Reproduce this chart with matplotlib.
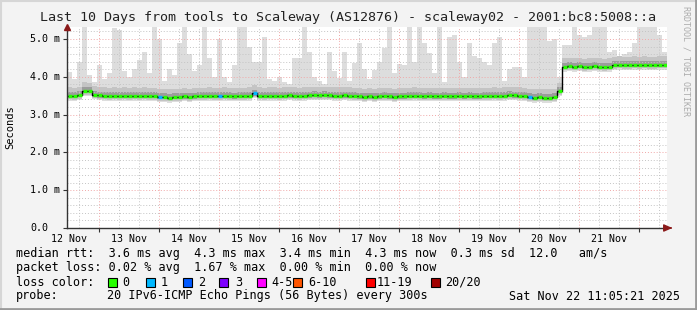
import numpy as np
import matplotlib
matplotlib.use("Agg")
import matplotlib.pyplot as plt
import matplotlib.transforms as mtransforms
from matplotlib.patches import Rectangle
from matplotlib.lines import Line2D

# --- data (2-hour bins, 10 days ending Sat Nov 22 11:05:21) ---
start_day = 11.089 / 24          # Nov 12 11:05 as days since Nov 12 00:00
bin_days = 1 / 12

median_ms = [
    3.50, 3.49, 3.52, 3.63, 3.62, 3.53, 3.51, 3.50, 3.49, 3.50, 3.49, 3.50,
    3.49, 3.50, 3.49, 3.50, 3.49, 3.49, 3.47, 3.46, 3.45, 3.46, 3.47, 3.48,
    3.47, 3.48, 3.49, 3.49, 3.50, 3.49, 3.49, 3.50, 3.49, 3.48, 3.49, 3.49,
    3.50, 3.56, 3.50, 3.49, 3.50, 3.50, 3.49, 3.50, 3.51, 3.50, 3.49, 3.50,
    3.51, 3.52, 3.51, 3.52, 3.51, 3.50, 3.50, 3.51, 3.50, 3.49, 3.48, 3.47,
    3.48, 3.47, 3.48, 3.49, 3.48, 3.47, 3.48, 3.48, 3.49, 3.50, 3.49, 3.48,
    3.49, 3.48, 3.48, 3.49, 3.48, 3.48, 3.49, 3.48, 3.49, 3.48, 3.48, 3.49,
    3.49, 3.50, 3.49, 3.50, 3.52, 3.51, 3.50, 3.49, 3.46, 3.45, 3.46, 3.45,
    3.45, 3.46, 3.62, 4.27, 4.28, 4.27, 4.28, 4.26, 4.27, 4.28, 4.27, 4.26,
    4.27, 4.31, 4.32, 4.31, 4.31, 4.32, 4.31, 4.32, 4.31, 4.31, 4.32, 4.32,
]

max_ms = [
    4.13, 3.95, 4.39, 5.40, 4.05, 3.85, 4.30, 3.95, 4.10, 5.30, 5.25, 4.15,
    4.00, 4.20, 4.45, 4.65, 4.10, 5.40, 5.00, 3.90, 4.20, 4.05, 4.90, 5.40,
    4.60, 4.15, 4.30, 5.40, 4.50, 4.00, 5.00, 4.00, 3.85, 4.30, 5.40, 5.40,
    4.80, 4.40, 4.40, 5.05, 3.95, 3.90, 4.00, 3.85, 3.80, 4.50, 4.50, 5.40,
    4.65, 4.00, 3.90, 3.80, 4.65, 4.15, 3.97, 4.65, 3.90, 4.37, 4.90, 4.20,
    3.95, 4.18, 4.40, 4.75, 5.40, 4.10, 4.35, 4.30, 5.40, 4.40, 5.40, 4.90,
    4.63, 4.10, 5.40, 3.85, 5.05, 5.10, 4.40, 4.00, 4.90, 4.55, 4.50, 4.40,
    4.30, 4.90, 5.05, 3.90, 4.20, 4.25, 4.27, 4.00, 5.40, 5.40, 5.40, 5.40,
    4.95, 5.00, 4.00, 4.85, 4.85, 5.40, 5.10, 5.05, 5.10, 5.40, 5.40, 5.40,
    4.65, 4.70, 4.55, 4.60, 4.65, 4.90, 5.40, 5.40, 5.40, 5.40, 5.10, 4.65,
]

# lost pings per bin (out of 20)
loss = [0] * 120
for i in (18, 30, 37, 92):
    loss[i] = 1

day_labels = ["12 Nov", "13 Nov", "14 Nov", "15 Nov", "16 Nov",
              "17 Nov", "18 Nov", "19 Nov", "20 Nov", "21 Nov"]
y_ticks = [0, 1, 2, 3, 4, 5]
y_tick_labels = ["0.0", "1.0 m", "2.0 m", "3.0 m", "4.0 m", "5.0 m"]

loss_names = ["0", "1", "2", "3", "4-5", "6-10", "11-19", "20/20"]
loss_colors = ["#26ff00", "#00b8ff", "#0059ff", "#7e00ff",
               "#ff00ff", "#ff5500", "#ff0000", "#a10000"]

stats_rtt = "median rtt:  3.6 ms avg  4.3 ms max  3.4 ms min  4.3 ms now  0.3 ms sd  12.0   am/s"
stats_loss = "packet loss: 0.02 % avg  1.67 % max  0.00 % min  0.00 % now"
probe_text = "20 IPv6-ICMP Echo Pings (56 Bytes) every 300s"
stamp = "Sat Nov 22 11:05:21 2025"
title = "Last 10 Days from tools to Scaleway (AS12876) - scaleway02 - 2001:bc8:5008::a"

# --- figure ---
W, H = 697, 310
MONO = "DejaVu Sans Mono"
plt.rcParams["font.family"] = MONO

fig = plt.figure(figsize=(W / 100, H / 100), dpi=100, facecolor="#f3f3f3")
ax = fig.add_axes([67 / W, 1 - 228 / H, 600 / W, 201 / H])
ax.set_facecolor("white")

n = len(median_ms)
med = np.array(median_ms)
top = np.array(max_ms)
edges = start_day + np.arange(n + 1) * bin_days
x_end = start_day + 10
ax.set_xlim(start_day, x_end)
ax.set_ylim(0, 201 / 37.8)


def step_fill(lo, hi, color):
    ax.fill_between(edges, np.append(lo, lo[-1]), np.append(hi, hi[-1]),
                    step="post", color=color, lw=0, zorder=1)


step_fill(med - 0.13, top, "#dddddd")
step_fill(med - 0.10, med + 0.22, "#c4c4c4")
step_fill(med - 0.06, med + 0.10, "#9c9c9c")

# grid (drawn over the smoke, like rrdtool)
dot = (0, (1, 2))
for k in range(1, 27):
    y = k * 0.2
    major = k % 5 == 0
    ax.axhline(y, color="#f0a8a8" if major else "#c4c4c4", lw=0.7,
               ls=dot, zorder=2)
for k in range(0, 34):
    t = k / 3
    if start_day < t < x_end:
        major = k % 3 == 0
        ax.axvline(t, color="#f0a8a8" if major else "#c4c4c4", lw=0.7,
                   ls=dot, zorder=2)

# median: black step line, then loss-coloured segments per bin
ax.step(edges, np.append(med, med[-1]), where="post", color="black",
        lw=1.0, zorder=3)
ax.hlines(med, edges[:-1] + bin_days * 0.22, edges[1:],
          colors=[loss_colors[v] for v in loss], lw=2.4, zorder=4)

# axes look
for s in ("top", "right"):
    ax.spines[s].set_visible(False)
for s in ("left", "bottom"):
    ax.spines[s].set_color("#333333")
    ax.spines[s].set_linewidth(1.0)
    ax.spines[s].set_zorder(5)

ax.set_yticks(y_ticks)
ax.set_yticklabels([])
ax.tick_params(axis="y", length=3, width=0.8, color="#333333", direction="out")
ytrans = mtransforms.blended_transform_factory(fig.transFigure, ax.transData)
for v, lab in zip(y_ticks, y_tick_labels):
    ax.text(30 / W, v, lab, transform=ytrans, ha="left", va="center",
            fontsize=7.2, family=MONO)

ax.set_xticks([d + 0.5 for d in range(len(day_labels))])
ax.set_xticklabels(day_labels, fontsize=7.2, family=MONO)
ax.tick_params(axis="x", length=0, pad=4)
ax.set_xticks(np.arange(1, 11), minor=True)
ax.tick_params(axis="x", which="minor", length=3, width=0.8,
               color="#333333", direction="out")

# axis arrows
ax.plot([start_day], [ax.get_ylim()[1]], marker="^", ms=5, color="#8b1a1a",
        clip_on=False, zorder=6)
ax.annotate("", xy=(x_end + 0.09, 0), xytext=(x_end, 0),
            arrowprops=dict(arrowstyle="-|>,head_length=0.5,head_width=0.22",
                            color="#8b1a1a", lw=1.0),
            annotation_clip=False, zorder=6)

# texts
fig.text(348 / W, 1 - 18 / H, title, ha="center", va="center", fontsize=9.6,
         family=MONO, color="#222222")
fig.text(10 / W, 1 - 127 / H, "Seconds", rotation=90, ha="center", va="center",
         fontsize=7.5, family=MONO)
fig.text(686 / W, 1 - 6 / H, "RRDTOOL / TOBI OETIKER", rotation=270,
         ha="center", va="top", fontsize=6, family=MONO, color="#ababab")

fig.text(16 / W, 1 - 254 / H, stats_rtt, ha="left", va="center", fontsize=8.5, family=MONO)
fig.text(16 / W, 1 - 268 / H, stats_loss, ha="left", va="center", fontsize=8.5, family=MONO)
fig.text(16 / W, 1 - 282 / H, "loss color:", ha="left", va="center", fontsize=8.5, family=MONO)
fig.text(16 / W, 1 - 296 / H, "probe:", ha="left", va="center", fontsize=8.5, family=MONO)
fig.text(107 / W, 1 - 296 / H, probe_text, ha="left", va="center", fontsize=8.5, family=MONO)
fig.text(680 / W, 1 - 296 / H, stamp, ha="right", va="center", fontsize=8.5, family=MONO)

box_x = [108, 146, 183, 219, 257, 293, 366, 431]
label_x = [122, 161, 198, 235, 271, 308, 377, 445]
for bx, lx, name, col in zip(box_x, label_x, loss_names, loss_colors):
    fig.patches.append(Rectangle((bx / W, 1 - 287 / H), 9 / W, 9 / H,
                                 transform=fig.transFigure, facecolor=col,
                                 edgecolor="black", lw=0.8))
    fig.text(lx / W, 1 - 282 / H, name, ha="left", va="center", fontsize=8.5, family=MONO)

# 3D frame
fig.lines.append(Line2D([0, 1], [1 - 1 / H] * 2, transform=fig.transFigure, color="#d6d6d6", lw=1.5))
fig.lines.append(Line2D([1 / W] * 2, [0, 1], transform=fig.transFigure, color="#d6d6d6", lw=1.5))
fig.lines.append(Line2D([0, 1], [1.5 / H] * 2, transform=fig.transFigure, color="#9a9a9a", lw=2))
fig.lines.append(Line2D([1 - 1.5 / W] * 2, [0, 1], transform=fig.transFigure, color="#9a9a9a", lw=2))

fig.savefig("out.png", dpi=100, facecolor=fig.get_facecolor())
